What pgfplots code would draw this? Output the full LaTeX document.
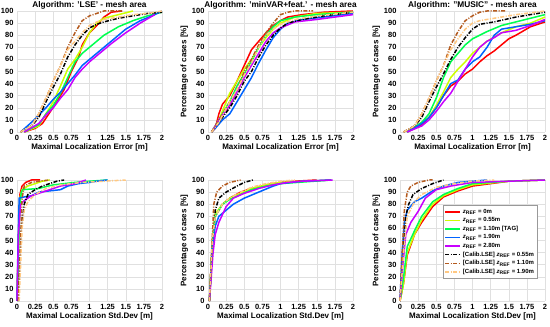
\documentclass[border=0pt]{standalone}
\usepackage{pgfplots}
\pgfplotsset{compat=1.18}
\usepackage{fontspec}
\setmainfont{Liberation Sans}
\definecolor{cred}{RGB}{255,0,0}
\definecolor{cyel}{RGB}{204,255,0}
\definecolor{cgrn}{RGB}{0,255,80}
\definecolor{cblu}{RGB}{0,100,255}
\definecolor{cmag}{RGB}{200,0,255}
\definecolor{cblk}{RGB}{0,0,0}
\definecolor{cbrn}{RGB}{180,90,30}
\definecolor{corg}{RGB}{255,200,130}
\pgfplotsset{
  myax/.style={
    scale only axis, width=145pt, height=121pt,
    xmin=0, xmax=2, ymin=0, ymax=100,
    xtick={0,0.25,0.5,0.75,1,1.25,1.5,1.75,2},
    xticklabels={0,0.25,0.5,0.75,1,1.25,1.5,1.75,2},
    ytick={0,10,20,30,40,50,60,70,80,90,100},
    grid=major, major grid style={draw=black!12, line width=0.4pt},
    axis line style={draw=none}, tick style={draw=none},
    ticklabel style={font=\fontsize{7.5}{8}\selectfont\bfseries},
    /pgf/number format/assume math mode=true,
    label style={font=\fontsize{8}{9}\selectfont\bfseries},
    xlabel style={yshift=4pt},
    ylabel shift=-3pt,
    title style={font=\fontsize{8.3}{9}\selectfont\bfseries, at={(rel axis cs:0.5,1)}, anchor=base, yshift=-3pt, inner sep=0pt},
    clip=false,
  },
  sr/.style={cred, line width=1.5pt},
  sy/.style={cyel, line width=1.5pt},
  sg/.style={cgrn, line width=1.5pt},
  sb/.style={cblu, line width=1.5pt},
  sm/.style={cmag, line width=1.5pt},
  sk/.style={cblk, line width=1.5pt, dash pattern=on 4pt off 1.5pt on 1pt off 1.5pt},
  sn/.style={cbrn, line width=1.5pt, dash pattern=on 4pt off 1.5pt on 1pt off 1.5pt},
  so/.style={corg, line width=1.5pt, dash pattern=on 4pt off 1.5pt on 1pt off 1.5pt},
}
\begin{document}
\begin{tikzpicture}
\useasboundingbox (0,0) rectangle (550pt,327pt);
% ---------- top left: LSE error
\begin{axis}[myax, at={(17pt,195pt)}, anchor=south west,
  title={Algorithm: 'LSE' - mesh area}, xlabel={Maximal Localization Error [m]}]
\addplot[sr] coordinates {(0.1,0) (0.25,3) (0.35,7) (0.45,16) (0.55,25) (0.65,35) (0.75,50) (0.85,62) (0.9,72) (1.0,82) (1.1,88) (1.2,95) (1.3,99) (1.45,100)};
\addplot[sy] coordinates {(0.1,0) (0.3,5) (0.4,15) (0.5,25) (0.6,38) (0.7,52) (0.8,60) (0.9,70) (1.0,82) (1.1,90) (1.2,94) (1.4,97) (1.6,100)};
\addplot[sg] coordinates {(0.1,0) (0.3,6) (0.4,15) (0.5,22) (0.6,32) (0.7,45) (0.8,58) (0.9,65) (1.0,70) (1.1,75) (1.2,80) (1.4,87) (1.6,92) (1.8,96) (2,99)};
\addplot[sb] coordinates {(0.05,0) (0.2,8) (0.3,14) (0.4,20) (0.5,27) (0.6,33) (0.7,40) (0.8,47) (0.9,55) (1.0,60) (1.1,65) (1.2,70) (1.3,75) (1.5,85) (1.7,92) (1.9,97) (2,100)};
\addplot[sm] coordinates {(0.1,0) (0.3,7) (0.4,14) (0.5,20) (0.6,28) (0.7,35) (0.8,45) (0.9,52) (1.0,58) (1.1,63) (1.2,68) (1.3,73) (1.5,82) (1.7,90) (1.9,97)};
\addplot[sk] coordinates {(0.05,0) (0.1,2) (0.2,5) (0.3,12) (0.4,25) (0.5,37) (0.6,48) (0.7,62) (0.8,72) (0.9,80) (1.0,86) (1.1,89) (1.2,91) (1.4,94) (1.6,96) (1.8,98) (2.0,99)};
\addplot[sn] coordinates {(0.05,0) (0.1,2) (0.2,5) (0.3,15) (0.4,28) (0.5,42) (0.6,55) (0.7,70) (0.8,82) (0.9,92) (1.0,96) (1.1,98) (1.2,100) (1.45,100)};
\addplot[so] coordinates {(0.05,0) (0.1,2) (0.2,5) (0.3,15) (0.4,28) (0.5,42) (0.6,55) (0.7,68) (0.8,75) (0.9,82) (1.0,88) (1.1,91) (1.2,93) (1.4,95) (1.6,97) (1.8,98) (2,100)};
\end{axis}
% ---------- top middle: minVAR error
\begin{axis}[myax, at={(208pt,195pt)}, anchor=south west,
  title={Algorithm: 'minVAR+feat.' - mesh area}, xlabel={Maximal Localization Error [m]}, ylabel={Percentage of cases [\%]}]
\addplot[sr] coordinates {(0.05,0) (0.1,3) (0.15,15) (0.2,23) (0.3,30) (0.4,42) (0.5,55) (0.6,68) (0.7,75) (0.8,82) (0.9,88) (1.0,92) (1.1,95) (1.3,97) (1.6,99) (2,100)};
\addplot[sy] coordinates {(0.05,0) (0.15,10) (0.3,32) (0.4,42) (0.5,52) (0.6,60) (0.7,70) (0.8,78) (0.9,85) (1.0,90) (1.2,95) (1.5,98) (2,99)};
\addplot[sg] coordinates {(0.05,0) (0.15,10) (0.3,25) (0.4,38) (0.5,48) (0.6,58) (0.7,70) (0.8,80) (0.9,87) (1.0,92) (1.2,95) (1.5,97) (2,99)};
\addplot[sb] coordinates {(0.05,0) (0.1,3) (0.2,10) (0.3,15) (0.4,25) (0.5,35) (0.6,45) (0.7,57) (0.8,68) (0.9,78) (1.0,85) (1.1,90) (1.3,93) (1.6,95) (2,98)};
\addplot[sm] coordinates {(0.05,0) (0.15,10) (0.3,22) (0.4,33) (0.5,45) (0.6,55) (0.7,65) (0.8,75) (0.9,82) (1.0,86) (1.2,91) (1.5,93) (2,97)};
\addplot[sk] coordinates {(0.05,0) (0.15,8) (0.3,20) (0.4,30) (0.5,42) (0.6,50) (0.7,62) (0.8,72) (0.9,80) (1.0,86) (1.1,90) (1.3,93) (1.6,96) (2,99)};
\addplot[sn] coordinates {(0.05,0) (0.15,10) (0.2,15) (0.3,25) (0.4,35) (0.5,50) (0.6,60) (0.7,72) (0.8,82) (0.9,90) (1.0,97) (1.1,99) (1.2,100) (1.45,100)};
\addplot[so] coordinates {(0.05,0) (0.15,8) (0.3,25) (0.4,35) (0.5,47) (0.6,57) (0.7,70) (0.8,80) (0.9,85) (1.0,89) (1.2,93) (1.5,96) (2,99)};
\end{axis}
% ---------- top right: MUSIC error
\begin{axis}[myax, at={(400pt,195pt)}, anchor=south west,
  title={Algorithm: "MUSIC" - mesh area}, xlabel={Maximal Localization Error [m]}, ylabel={Percentage of cases [\%]}]
\addplot[sr] coordinates {(0.1,0) (0.3,6) (0.4,12) (0.5,20) (0.6,30) (0.7,38) (0.8,42) (0.9,48) (1.0,52) (1.1,58) (1.2,63) (1.3,67) (1.4,72) (1.5,77) (1.6,80) (1.8,87) (2,91)};
\addplot[sy] coordinates {(0.1,0) (0.3,8) (0.4,12) (0.5,22) (0.6,33) (0.7,45) (0.8,52) (0.9,58) (1.0,65) (1.1,70) (1.2,75) (1.4,82) (1.6,87) (1.8,90) (2,95)};
\addplot[sg] coordinates {(0.1,0) (0.3,8) (0.4,15) (0.5,28) (0.6,45) (0.7,58) (0.8,65) (0.9,72) (1.0,77) (1.1,80) (1.2,83) (1.4,88) (1.6,91) (1.8,94) (2,97)};
\addplot[sb] coordinates {(0.1,0) (0.3,7) (0.4,12) (0.5,20) (0.6,30) (0.7,40) (0.8,43) (0.9,52) (1.0,58) (1.1,62) (1.2,70) (1.3,80) (1.4,85) (1.6,87) (1.8,89) (2,92)};
\addplot[sm] coordinates {(0.1,0) (0.3,5) (0.4,10) (0.5,17) (0.6,25) (0.7,32) (0.8,42) (0.9,52) (1.0,62) (1.1,70) (1.2,75) (1.3,78) (1.4,82) (1.6,84) (1.8,88) (2,93)};
\addplot[sk] coordinates {(0.05,0) (0.2,5) (0.3,12) (0.4,25) (0.5,37) (0.6,48) (0.7,60) (0.8,70) (0.9,78) (1.0,85) (1.1,89) (1.3,91) (1.6,95) (2,99)};
\addplot[sn] coordinates {(0.05,0) (0.2,5) (0.3,15) (0.4,28) (0.5,42) (0.6,55) (0.7,72) (0.8,83) (0.9,92) (1.0,96) (1.1,99) (1.2,100) (1.45,100)};
\addplot[so] coordinates {(0.05,0) (0.2,5) (0.3,15) (0.4,28) (0.5,42) (0.6,55) (0.7,68) (0.8,77) (0.9,85) (1.0,90) (1.1,92) (1.3,94) (1.6,97) (2,100)};
\end{axis}
% ---------- bottom left: LSE std
\begin{axis}[myax, at={(17pt,26pt)}, anchor=south west,
  xlabel={Maximal Localization Std.Dev [m]}]
\addplot[sr] coordinates {(0.0,0) (0.02,50) (0.04,88) (0.07,95) (0.12,98) (0.2,100) (0.32,100)};
\addplot[sy] coordinates {(0,0) (0.02,50) (0.04,85) (0.07,92) (0.15,95) (0.25,97) (0.35,99) (0.45,100)};
\addplot[sg] coordinates {(0,0) (0.02,40) (0.04,80) (0.06,90) (0.08,92) (0.3,93) (0.5,96) (0.8,98) (1.0,99) (1.25,100)};
\addplot[sb] coordinates {(0,0) (0.015,50) (0.03,85) (0.1,86) (0.2,87) (0.3,90) (0.45,91) (0.6,92) (0.7,95) (0.85,97) (1.0,98) (1.1,99) (1.25,100)};
\addplot[sm] coordinates {(0,0) (0.02,55) (0.05,80) (0.1,83) (0.2,87) (0.3,89) (0.45,92) (0.6,95) (0.8,97) (0.95,100)};
\addplot[sk] coordinates {(0.02,0) (0.06,60) (0.1,80) (0.15,88) (0.25,92) (0.35,95) (0.45,97) (0.55,99) (0.65,100)};
\addplot[sn] coordinates {(0.02,0) (0.05,50) (0.07,85) (0.1,95) (0.2,98) (0.3,99) (0.45,100)};
\addplot[so] coordinates {(0.03,0) (0.07,60) (0.1,75) (0.15,82) (0.25,88) (0.4,93) (0.6,96) (0.9,98) (1.2,99) (1.5,100)};
\end{axis}
% ---------- bottom middle: minVAR std
\begin{axis}[myax, at={(208pt,26pt)}, anchor=south west,
  xlabel={Maximal Localization Std.Dev [m]}, ylabel={Percentage of cases [\%]}]
\addplot[sr] coordinates {(0.02,0) (0.06,50) (0.1,70) (0.2,80) (0.3,85) (0.45,90) (0.6,93) (0.8,96) (1.0,98) (1.2,99) (1.5,100)};
\addplot[sy] coordinates {(0.02,0) (0.06,50) (0.1,72) (0.2,80) (0.3,85) (0.45,89) (0.6,93) (0.8,96) (1.0,98) (1.7,100)};
\addplot[sg] coordinates {(0.02,0) (0.06,48) (0.1,70) (0.2,80) (0.3,84) (0.45,88) (0.6,92) (0.8,95) (1.0,97) (1.7,100)};
\addplot[sb] coordinates {(0.02,0) (0.06,45) (0.1,62) (0.15,70) (0.25,75) (0.35,80) (0.5,85) (0.7,90) (0.9,95) (1.0,97) (1.3,99) (1.7,100)};
\addplot[sm] coordinates {(0.02,0) (0.07,40) (0.1,55) (0.15,65) (0.25,78) (0.35,85) (0.5,89) (0.7,93) (0.9,96) (1.1,98) (1.3,99) (1.72,100)};
\addplot[sk] coordinates {(0.02,0) (0.06,50) (0.1,75) (0.15,85) (0.25,90) (0.4,95) (0.5,98) (0.62,100)};
\addplot[sn] coordinates {(0.02,0) (0.05,40) (0.08,80) (0.12,90) (0.2,95) (0.3,98) (0.45,100)};
\addplot[so] coordinates {(0.02,0) (0.06,50) (0.1,70) (0.2,80) (0.3,85) (0.45,90) (0.6,94) (0.8,97) (1.0,99) (1.2,100)};
\end{axis}
% ---------- bottom right: MUSIC std
\begin{axis}[myax, at={(400pt,26pt)}, anchor=south west,
  xlabel={Maximal Localization Std.Dev [m]}, ylabel={Percentage of cases [\%]},
  legend style={at={(rel axis cs:0.295,0.79)}, anchor=north west,
    font=\fontsize{6}{7}\selectfont\bfseries, draw=black!40, fill=white,
    inner sep=1.5pt, row sep=-1.2pt, cells={anchor=west}},
  legend image code/.code={\draw[#1] (0pt,0pt) -- (15pt,0pt);}]
\addplot[sr] coordinates {(0,0) (0.05,15) (0.1,38) (0.2,55) (0.3,65) (0.45,78) (0.6,86) (0.8,91) (1.0,95) (1.5,99) (2,100)};
\addplot[sy] coordinates {(0,0) (0.05,15) (0.1,40) (0.2,55) (0.3,67) (0.45,80) (0.6,87) (0.8,92) (1.0,96) (1.5,99) (2,100)};
\addplot[sg] coordinates {(0,0) (0.05,20) (0.1,45) (0.2,58) (0.3,70) (0.45,82) (0.6,88) (0.8,93) (1.0,97) (1.5,99) (2,100)};
\addplot[sb] coordinates {(0,0) (0.03,40) (0.06,65) (0.1,75) (0.2,82) (0.3,85) (0.45,91) (0.6,95) (0.8,98) (1.2,100)};
\addplot[sm] coordinates {(0,0) (0.04,30) (0.08,55) (0.15,65) (0.25,74) (0.35,85) (0.5,92) (0.7,95) (1.0,98) (2,100)};
\addplot[sk] coordinates {(0.0,0) (0.04,40) (0.08,70) (0.12,80) (0.18,88) (0.3,93) (0.45,97) (0.6,100)};
\addplot[sn] coordinates {(0.0,0) (0.03,40) (0.06,75) (0.1,90) (0.15,95) (0.25,98) (0.4,100) (0.45,100)};
\addplot[so] coordinates {(0.0,0) (0.05,40) (0.1,70) (0.2,82) (0.3,88) (0.5,94) (0.75,97) (1.0,99) (1.3,100)};
\addlegendentry{\textit{z}\textsubscript{REF} = 0m}
\addlegendentry{\textit{z}\textsubscript{REF} = 0.55m}
\addlegendentry{\textit{z}\textsubscript{REF} = 1.10m [TAG]}
\addlegendentry{\textit{z}\textsubscript{REF} = 1.90m}
\addlegendentry{\textit{z}\textsubscript{REF} = 2.80m}
\addlegendentry{{}[Calib.LSE] \textit{z}\textsubscript{REF} = 0.55m}
\addlegendentry{{}[Calib.LSE] \textit{z}\textsubscript{REF} = 1.10m}
\addlegendentry{{}[Calib.LSE] \textit{z}\textsubscript{REF} = 1.90m}
\end{axis}
\end{tikzpicture}
\end{document}
